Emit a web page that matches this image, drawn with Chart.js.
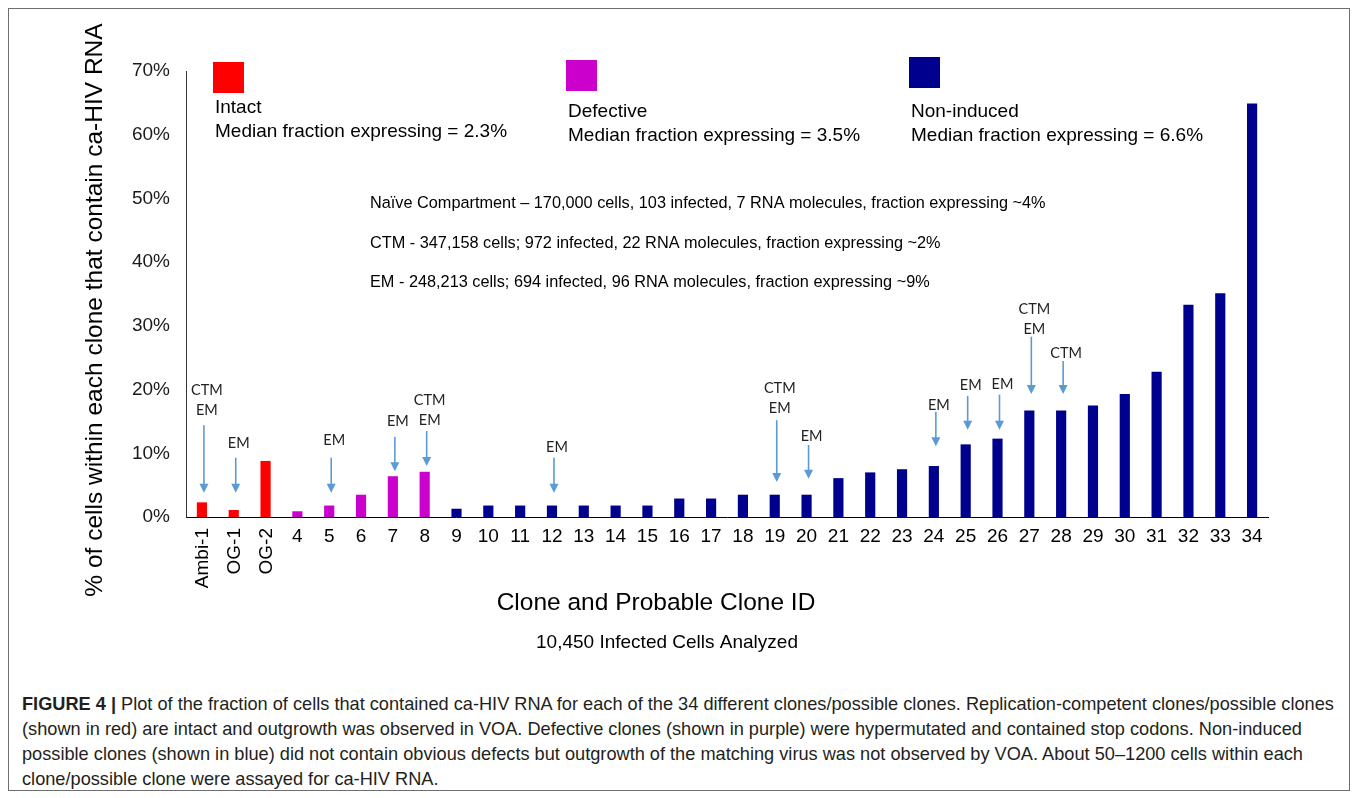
<!DOCTYPE html>
<html>
<head>
<meta charset="utf-8">
<script src="https://cdn.jsdelivr.net/npm/chart.js@4.4.0/dist/chart.umd.min.js"></script>
<style>
body { margin: 0; background: #fff; width: 1357px; height: 798px; overflow: hidden; position: relative; font-family: "Liberation Sans", Arial, sans-serif; }
#frame { position: absolute; left: 8px; top: 8px; width: 1340px; height: 781px; border: 1px solid #6d6e71; }
#wrap { position: absolute; left: 0; top: 0; width: 1357px; height: 665px; }
#caption { position: absolute; left: 22px; top: 692px; font-family: "Liberation Sans", sans-serif; font-size: 18.2px; line-height: 25px; color: #231f20; white-space: nowrap; }
#caption b { font-weight: bold; }
</style>
</head>
<body>
<div id="frame"></div>
<div id="wrap"><canvas id="chart" width="1357" height="665"></canvas></div>
<div id="caption">
<b>FIGURE 4 |</b> Plot of the fraction of cells that contained ca-HIV RNA for each of the 34 different clones/possible clones. Replication-competent clones/possible clones<br>
(shown in red) are intact and outgrowth was observed in VOA. Defective clones (shown in purple) were hypermutated and contained stop codons. Non-induced<br>
possible clones (shown in blue) did not contain obvious defects but outgrowth of the matching virus was not observed by VOA. About 50–1200 cells within each<br>
clone/possible clone were assayed for ca-HIV RNA.
</div>
<script>
// Clone IDs and % of cells with ca-HIV RNA
const clones = ['Ambi-1', 'OG-1', 'OG-2', '4', '5', '6', '7', '8', '9', '10', '11', '12', '13', '14', '15', '16', '17',
    '18', '19', '20', '21', '22', '23', '24', '25', '26', '27', '28', '29', '30', '31', '32', '33', '34'];
const pctExpressing = [2.3, 1.1, 8.8, 0.9, 1.8, 3.5, 6.4, 7.1, 1.3, 1.8, 1.8, 1.8, 1.8, 1.8, 1.8, 2.9, 2.9,
    3.5, 3.5, 3.5, 6.1, 7.0, 7.5, 8.0, 11.4, 12.3, 16.7, 16.7, 17.5, 19.3, 22.8, 33.3, 35.1, 64.9];
const cloneGroup = [0, 0, 0, 1, 1, 1, 1, 1, 2, 2, 2, 2, 2, 2, 2, 2, 2,
    2, 2, 2, 2, 2, 2, 2, 2, 2, 2, 2, 2, 2, 2, 2, 2, 2];

// Groups (legend)
const groupNames = ['Intact', 'Defective', 'Non-induced'];
const groupMedians = [2.3, 3.5, 6.6];
const groupColors = ['#ff0000', '#cc00cc', '#00008f'];

// Compartment notes
const notes = [
    'Naïve Compartment – 170,000 cells, 103 infected, 7 RNA molecules, fraction expressing ~4%',
    'CTM - 347,158 cells; 972 infected, 22 RNA molecules, fraction expressing ~2%',
    'EM - 248,213 cells; 694 infected, 96 RNA molecules, fraction expressing ~9%'
];

// Arrow annotations (values in % units)
const arrowClones = ['Ambi-1', 'OG-1', '5', '7', '8', '12', '19', '20', '24', '25', '26', '27', '28'];
const arrowLabels = [['CTM', 'EM'], ['EM'], ['EM'], ['EM'], ['CTM', 'EM'], ['EM'], ['CTM', 'EM'], ['EM'], ['EM'], ['EM'], ['EM'], ['CTM', 'EM'], ['CTM']];
const arrowLabelAt = [16.8, 11.5, 12.1, 15.0, 15.1, 11.0, 17.0, 12.7, 17.6, 20.6, 20.9, 29.4, 25.7];
const arrowTail = [14.4, 9.3, 9.3, 12.6, 13.5, 9.3, 15.2, 11.3, 16.5, 19.0, 19.2, 28.3, 24.5];
const arrowTip = [3.8, 3.8, 3.8, 7.2, 8.0, 3.8, 5.5, 6.0, 11.1, 13.7, 13.7, 19.3, 19.3];

const yTicks = [0, 10, 20, 30, 40, 50, 60, 70];
const yTitle = '% of cells within each clone that contain ca-HIV RNA';
const xTitle = 'Clone and Probable Clone ID';
const xSubTitle = '10,450 Infected Cells Analyzed';

const FONT = '"Liberation Sans", Arial, sans-serif';

// Draw everything Chart.js has no native element for
const extras = {
    id: 'extras',
    afterDraw(chart) {
        const ctx = chart.ctx;
        const xs = chart.scales.x, ys = chart.scales.y;
        ctx.save();

        // x tick labels: numbers flat, named clones rotated
        ctx.fillStyle = '#000';
        ctx.font = '19px ' + FONT;
        clones.forEach((c, i) => {
            const x = xs.getPixelForValue(i);
            if (/^\d+$/.test(c)) {
                ctx.textAlign = 'center';
                ctx.textBaseline = 'middle';
                ctx.fillText(c, x, ys.bottom + 20);
            } else {
                ctx.save();
                ctx.translate(x + 1, ys.bottom + 11);
                ctx.rotate(-Math.PI / 2);
                ctx.textAlign = 'right';
                ctx.textBaseline = 'middle';
                ctx.fillText(c, 0, 0);
                ctx.restore();
            }
        });

        // axis titles
        ctx.save();
        ctx.translate(95, 310);
        ctx.rotate(-Math.PI / 2);
        ctx.font = '24.5px ' + FONT;
        ctx.textAlign = 'center';
        ctx.textBaseline = 'middle';
        ctx.fillText(yTitle, 0, 0);
        ctx.restore();

        ctx.textAlign = 'center';
        ctx.textBaseline = 'middle';
        ctx.font = '24.5px ' + FONT;
        ctx.fillText(xTitle, 656, 603);
        ctx.font = '19px ' + FONT;
        ctx.fillText(xSubTitle, 667, 643);

        // legend blocks
        const legendX = [213, 566, 909];
        const legendY = [62, 60, 57];
        const legendTextY = [108, 112, 112];
        groupNames.forEach((g, i) => {
            ctx.fillStyle = groupColors[i];
            ctx.fillRect(legendX[i], legendY[i], 31, 31);
            ctx.fillStyle = '#000';
            ctx.textAlign = 'left';
            ctx.font = '19px ' + FONT;
            ctx.fillText(g, legendX[i] + 2, legendTextY[i]);
            ctx.fillText('Median fraction expressing = ' + groupMedians[i] + '%', legendX[i] + 2, legendTextY[i] + 24);
        });

        // compartment notes
        ctx.font = '16.3px ' + FONT;
        notes.forEach((n, i) => ctx.fillText(n, 370, 204 + i * 39.5));

        // arrows
        ctx.strokeStyle = '#5b9bd5';
        ctx.fillStyle = '#5b9bd5';
        ctx.lineWidth = 1.6;
        arrowClones.forEach((c, i) => {
            const x = xs.getPixelForValue(clones.indexOf(c)) + 2;
            const y0 = ys.getPixelForValue(arrowTail[i]);
            const y1 = ys.getPixelForValue(arrowTip[i]);
            ctx.beginPath();
            ctx.moveTo(x, y0);
            ctx.lineTo(x, y1 - 8);
            ctx.stroke();
            ctx.beginPath();
            ctx.moveTo(x - 4.5, y1 - 9);
            ctx.lineTo(x + 4.5, y1 - 9);
            ctx.lineTo(x, y1);
            ctx.closePath();
            ctx.fill();
        });

        // arrow labels
        ctx.fillStyle = '#222';
        ctx.font = '14.5px Lato, "Open Sans", sans-serif';
        ctx.textAlign = 'center';
        arrowClones.forEach((c, i) => {
            const x = xs.getPixelForValue(clones.indexOf(c)) + 5;
            const yl = ys.getPixelForValue(arrowLabelAt[i]);
            const lines = arrowLabels[i];
            lines.forEach((t, k) => ctx.fillText(t, x, yl - (lines.length - 1 - k) * 20));
        });

        ctx.restore();
    }
};

new Chart(document.getElementById('chart').getContext('2d'), {
    type: 'bar',
    data: {
        labels: clones,
        datasets: [{
            data: pctExpressing,
            backgroundColor: cloneGroup.map(g => groupColors[g]),
            barPercentage: 0.32,
            categoryPercentage: 1
        }]
    },
    options: {
        responsive: false,
        animation: false,
        layout: { padding: { top: 71, right: 89, left: 0, bottom: 0 } },
        plugins: { legend: { display: false }, tooltip: { enabled: false } },
        scales: {
            x: {
                grid: { display: false, drawTicks: false },
                border: { display: true, color: '#000', width: 1 },
                ticks: { display: false },
                afterFit: s => { s.height = 665 - 517; }
            },
            y: {
                min: 0, max: 70,
                grid: { display: false, drawTicks: false },
                border: { display: true, color: '#333', width: 1 },
                afterBuildTicks: s => { s.ticks = yTicks.map(v => ({ value: v })); },
                ticks: {
                    callback: v => v + '%',
                    color: '#1a1a1a',
                    font: { size: 19, family: FONT },
                    padding: 16
                },
                afterFit: s => { s.width = 186; }
            }
        }
    },
    plugins: [extras]
});
</script>
</body>
</html>
